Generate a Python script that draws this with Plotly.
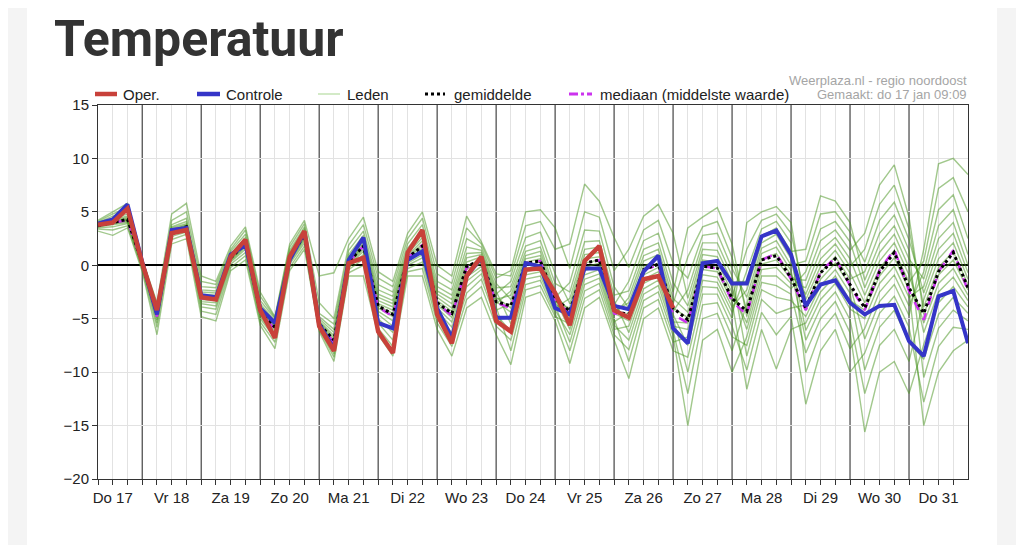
import pandas as pd
import plotly.graph_objects as go

# tijdstappen van 6 uur, vanaf do 17 jan 06:00
tijd = pd.date_range('2019-01-17 06:00', periods=60, freq='6h')

dag_labels = ['Do 17', 'Vr 18', 'Za 19', 'Zo 20', 'Ma 21', 'Di 22', 'Wo 23', 'Do 24',
              'Vr 25', 'Za 26', 'Zo 27', 'Ma 28', 'Di 29', 'Wo 30', 'Do 31']
label_pos = ['2019-01-%02d 12:00' % d for d in range(17, 32)]
middernacht = ['2019-01-%02d 00:00' % d for d in range(18, 32)]

# operationele run (stopt na 10 dagen)
oper = [3.8, 4.0, 5.3, 0.2, -4.2, 3.0, 3.3, -3.0, -3.2, 0.8, 2.4, -4.2, -6.8, 0.8, 3.2,
        -5.7, -8.0, 0.2, 0.7, -6.2, -8.2, 1.2, 3.3, -4.6, -7.3, -1.0, 0.8, -5.2, -6.2, -0.4,
        -0.3, -2.6, -5.6, 0.4, 1.8, -4.2, -4.9, -1.3, -1.0, -4.0] + [None] * 20

controle = [3.9, 4.3, 5.7, 0.3, -4.6, 3.3, 3.5, -2.8, -3.0, 1.0, 1.9, -4.0, -5.4, 0.5, 3.1,
            -5.5, -7.8, 0.5, 2.6, -5.4, -5.9, 0.5, 1.3, -4.0, -6.8, -1.0, 0.7, -4.9, -4.9, 0.2,
            -0.1, -4.0, -4.6, -0.3, -0.3, -3.8, -4.1, -0.6, 0.9, -5.9, -7.3, 0.2, 0.4, -1.7, -1.7,
            2.7, 3.25, 1.0, -3.8, -1.8, -1.4, -3.5, -4.6, -3.8, -3.7, -7.1, -8.5, -2.9, -2.4, -7.3]

gemiddelde = [3.7, 4.0, 4.3, 0.2, -4.6, 3.2, 3.6, -3.0, -3.1, 0.7, 2.0, -4.3, -5.8, 0.7, 2.8,
              -5.5, -7.0, 0.3, 1.8, -3.8, -4.6, 0.7, 1.8, -3.5, -4.5, -0.1, 0.5, -3.4, -3.8, 0.2,
              0.4, -3.1, -4.3, 0.2, 0.5, -4.3, -4.6, -0.4, 0.1, -4.0, -5.1, -0.1, -0.25, -3.1, -4.3,
              0.5, 0.9, -1.2, -4.0, -0.7, 0.6, -1.8, -4.0, -0.6, 1.2, -2.1, -4.5, -0.6, 1.2, -2.1]

mediaan = [3.7, 4.0, 4.2, 0.2, -4.8, 3.3, 3.7, -3.1, -3.2, 0.7, 2.0, -4.4, -6.0, 0.7, 2.8,
           -5.6, -7.2, 0.3, 1.8, -3.9, -4.8, 0.7, 1.9, -3.6, -4.7, -0.2, 0.5, -3.5, -4.0, 0.2,
           0.4, -3.3, -4.5, 0.1, 0.5, -4.5, -4.8, -0.4, 0.0, -4.6, -5.4, -0.1, -0.3, -3.4, -4.6,
           0.5, 1.1, -1.3, -4.2, -0.6, 0.7, -1.9, -4.2, -0.5, 1.5, -2.4, -5.1, -0.6, 1.4, -2.4]

# ensembleleden, per tijdstap (16 leden, kolom = lid)
leden_per_stap = [
    [3.2, 3.4, 3.5, 3.6, 3.6, 3.7, 3.7, 3.7, 3.8, 3.8, 3.9, 3.9, 4.0, 4.0, 4.1, 4.2],
    [2.8, 3.3, 3.6, 3.8, 3.9, 3.9, 4.0, 4.0, 4.1, 4.1, 4.2, 4.3, 4.4, 4.6, 4.8, 5.0],
    [3.5, 3.7, 3.9, 4.0, 4.1, 4.2, 4.2, 4.3, 4.3, 4.4, 4.5, 4.6, 4.8, 5.0, 5.4, 5.8],
    [-0.6, -0.4, -0.2, -0.1, 0.0, 0.1, 0.1, 0.2, 0.2, 0.3, 0.3, 0.4, 0.4, 0.5, 0.5, 0.6],
    [-6.5, -5.8, -5.4, -5.1, -4.9, -4.8, -4.7, -4.6, -4.5, -4.4, -4.3, -4.2, -4.0, -3.9, -3.7, -3.5],
    [2.0, 2.4, 2.7, 2.9, 3.0, 3.1, 3.1, 3.2, 3.3, 3.3, 3.4, 3.5, 3.6, 3.8, 4.2, 4.8],
    [2.5, 2.9, 3.1, 3.3, 3.4, 3.5, 3.5, 3.6, 3.7, 3.7, 3.8, 3.9, 4.1, 4.4, 5.0, 5.8],
    [-4.8, -4.3, -3.9, -3.6, -3.4, -3.2, -3.1, -3.0, -2.9, -2.8, -2.7, -2.5, -2.3, -2.0, -1.5, -1.0],
    [-5.2, -4.6, -4.1, -3.8, -3.5, -3.3, -3.2, -3.1, -3.0, -2.9, -2.8, -2.6, -2.4, -2.1, -1.8, -1.5],
    [-0.5, -0.2, 0.1, 0.3, 0.4, 0.5, 0.6, 0.7, 0.7, 0.8, 0.9, 1.0, 1.1, 1.3, 1.5, 1.8],
    [0.5, 0.9, 1.2, 1.5, 1.7, 1.8, 1.9, 2.0, 2.1, 2.2, 2.3, 2.4, 2.6, 2.9, 3.3, 3.6],
    [-5.6, -5.3, -5.0, -4.8, -4.6, -4.5, -4.4, -4.3, -4.2, -4.1, -4.0, -3.8, -3.6, -3.3, -2.9, -2.5],
    [-7.8, -7.2, -6.8, -6.5, -6.2, -6.0, -5.9, -5.8, -5.7, -5.6, -5.5, -5.3, -5.2, -5.0, -4.9, -4.8],
    [-0.5, -0.2, 0.1, 0.3, 0.4, 0.5, 0.6, 0.7, 0.7, 0.8, 0.9, 1.0, 1.2, 1.4, 1.7, 2.0],
    [1.5, 1.8, 2.1, 2.3, 2.5, 2.6, 2.7, 2.8, 2.9, 3.0, 3.1, 3.2, 3.4, 3.6, 3.9, 4.2],
    [-6.2, -6.0, -5.9, -5.8, -5.7, -5.6, -5.6, -5.5, -5.4, -5.3, -5.2, -5.0, -4.8, -4.5, -3.5, -1.0],
    [-9.0, -8.6, -8.3, -8.0, -7.8, -7.6, -7.4, -7.2, -7.0, -6.8, -6.6, -6.3, -6.0, -5.5, -5.0, -0.7],
    [-1.0, -0.7, -0.4, -0.2, 0.0, 0.1, 0.2, 0.3, 0.4, 0.5, 0.6, 0.8, 1.0, 1.4, 1.9, 2.5],
    [-1.0, 0.0, 0.6, 1.0, 1.3, 1.5, 1.7, 1.8, 1.9, 2.1, 2.3, 2.5, 2.8, 3.2, 3.8, 4.5],
    [-6.5, -5.9, -5.4, -5.0, -4.6, -4.3, -4.0, -3.8, -3.6, -3.3, -3.0, -2.7, -2.3, -1.8, -1.2, -0.6],
    [-8.5, -7.6, -7.0, -6.3, -5.7, -5.2, -4.8, -4.5, -4.2, -3.9, -3.6, -3.3, -2.9, -2.5, -2.0, -1.5],
    [-1.0, -0.6, -0.3, 0.0, 0.2, 0.4, 0.5, 0.7, 0.8, 0.9, 1.1, 1.3, 1.6, 2.0, 2.5, 3.0],
    [-1.0, -0.3, 0.3, 0.7, 1.0, 1.3, 1.6, 1.8, 2.0, 2.3, 2.6, 2.9, 3.3, 3.8, 4.4, 5.0],
    [-6.0, -5.4, -5.0, -4.6, -4.3, -4.0, -3.7, -3.5, -3.3, -3.0, -2.7, -2.4, -2.0, -1.5, -0.8, 0.0],
    [-8.5, -7.6, -6.9, -6.3, -5.8, -5.3, -4.9, -4.6, -4.3, -4.0, -3.6, -3.2, -2.8, -2.3, -1.7, -1.0],
    [-4.0, -3.2, -2.6, -2.0, -1.5, -1.1, -0.7, -0.4, -0.1, 0.3, 0.7, 1.1, 1.7, 2.5, 3.5, 4.6],
    [-3.0, -2.0, -1.3, -0.8, -0.4, -0.1, 0.2, 0.4, 0.6, 0.8, 1.0, 1.2, 1.4, 1.7, 2.0, 2.2],
    [-6.5, -5.7, -5.1, -4.6, -4.2, -3.9, -3.6, -3.4, -3.2, -3.0, -2.7, -2.4, -2.1, -1.7, -1.2, -0.8],
    [-9.3, -7.0, -4.9, -6.2, -3.6, -8.0, -2.4, -4.4, -2.8, -4.0, -1.5, -5.5, -2.0, -3.2, -0.5, -1.0],
    [-3.0, -1.8, -0.6, -1.3, 0.3, -2.3, 1.3, -0.3, 0.9, 0.0, 2.6, -0.9, 1.8, 0.6, 5.0, 3.7],
    [-2.5, -1.4, -0.3, -1.0, 0.6, -1.9, 1.7, 0.0, 1.3, 0.3, 3.1, -0.6, 2.3, 0.9, 5.2, 4.1],
    [-5.2, -4.5, -3.8, -4.2, -3.2, -4.8, -2.3, -3.6, -2.7, -3.4, -0.8, -4.0, -1.7, -3.0, 3.5, 1.5],
    [-9.2, -8.0, -7.2, -6.5, -6.0, -5.5, -5.1, -4.7, -4.4, -4.0, -3.6, -3.1, -2.5, -1.6, -0.3, 2.0],
    [-4.0, -3.1, -2.4, -1.8, -1.3, -0.9, -0.5, -0.2, 0.2, 0.6, 1.0, 1.5, 2.2, 3.3, 5.0, 7.6],
    [-3.0, -2.3, -1.7, -1.2, -0.8, -0.4, -0.1, 0.2, 0.5, 0.8, 1.2, 1.7, 2.3, 3.2, 4.5, 6.0],
    [-7.0, -6.5, -6.0, -5.6, -5.3, -5.0, -4.7, -4.5, -4.3, -4.0, -3.7, -3.3, -2.8, -2.0, -0.5, 2.6],
    [-10.6, -7.9, -5.7, -7.0, -4.4, -9.0, -3.0, -5.2, -3.5, -4.8, -1.5, -6.3, -2.4, -4.0, 1.5, -0.2],
    [-5.0, -3.3, -1.7, -2.7, -0.5, -4.0, 0.9, -1.3, 0.4, -0.9, 2.3, -2.2, 1.5, -0.1, 4.6, 3.3],
    [-4.0, -2.5, -1.0, -1.9, 0.2, -3.2, 1.5, -0.6, 1.0, -0.2, 3.0, -1.4, 2.1, 0.6, 5.7, 4.2],
    [-8.0, -6.6, -5.3, -6.1, -4.3, -7.2, -3.1, -4.9, -3.6, -4.6, -1.6, -5.7, -2.5, -4.0, 3.0, 0.2],
    [-8.6, -15.0, -5.4, -12.0, -2.3, -6.7, -4.4, -10.0, 0.8, -7.5, -3.8, -6.0, 3.5, -4.9, -3.1, -1.2],
    [-2.7, -7.0, -0.4, -5.0, 2.1, -1.4, 0.5, -3.7, 3.6, -2.0, 1.0, -0.9, 4.5, 0.0, 1.5, 2.8],
    [-2.7, -6.0, -0.6, -4.5, 2.1, -1.6, 0.3, -3.5, 4.1, -2.1, 0.8, -1.1, 5.4, -0.2, 1.4, 3.0],
    [-5.7, -10.0, -3.4, -8.0, -1.0, -4.4, -2.6, -6.7, 0.7, -5.0, -2.1, -3.9, 2.0, -3.0, -1.6, -0.3],
    [-9.8, -6.7, -11.6, -3.6, -8.5, -0.5, -5.4, -7.5, -4.2, 4.0, -6.0, -2.3, -4.8, 1.5, -1.5, -3.0],
    [-4.4, -1.6, -6.0, 1.1, -3.2, 3.4, -0.4, -2.3, 0.6, 5.0, -1.0, 2.1, 0.1, 4.2, 2.7, 1.6],
    [-6.5, -1.9, -9.7, 1.7, -4.5, 4.1, -0.2, -3.0, 1.1, 5.5, -1.0, 2.9, 0.5, 4.8, 3.5, 2.3],
    [-4.8, -2.7, -6.0, -0.5, -4.0, 2.1, -1.7, -3.3, -0.9, 4.0, -2.2, 0.6, -1.3, 3.0, 1.3, 0.0],
    [-13.0, -8.2, -5.4, -7.0, -3.7, -10.0, -2.1, -4.8, -2.7, -4.2, -0.6, -6.1, -1.4, -3.2, 1.5, 0.4],
    [-8.0, -5.0, -2.5, -4.0, -0.7, -6.2, 1.4, -1.9, 0.6, -1.3, 3.4, -3.2, 2.3, -0.1, 6.5, 4.8],
    [-6.0, -3.4, -1.0, -2.5, 0.8, -4.5, 2.6, -0.4, 2.0, 0.2, 4.1, -1.7, 3.3, 1.4, 6.0, 5.0],
    [-10.0, -6.3, -3.3, -5.1, -1.3, -7.8, 0.6, -2.6, -0.1, -1.9, 2.2, -4.1, 1.4, -0.7, 4.0, 3.1],
    [-8.2, -15.6, -4.2, -12.0, -0.6, -5.9, -2.8, -9.8, 1.5, -6.9, -2.1, -5.0, 3.0, -3.5, -1.4, 0.3],
    [-4.5, -10.0, -1.0, -7.5, 3.0, -2.5, 0.4, -5.8, 5.7, -3.4, 1.2, -1.7, 7.5, -0.3, 2.0, 4.2],
    [-2.9, -9.0, 0.7, -6.0, 4.7, -0.9, 2.1, -4.2, 7.5, -1.8, 2.9, -0.1, 9.4, 1.4, 3.7, 5.9],
    [-5.8, -12.0, -2.3, -9.0, 1.4, -3.8, -0.9, -7.2, 3.4, -4.7, -0.2, -3.0, 4.5, -1.6, 0.6, 2.4],
    [-12.8, -7.4, -15.0, -3.2, -10.5, -0.6, -5.4, -8.8, -3.9, 1.5, -6.3, -2.0, -4.6, 0.4, -1.3, -2.6],
    [-7.6, -3.5, -10.0, 0.6, -5.9, 5.2, -1.7, -4.6, -0.2, 9.5, -2.5, 2.5, -0.9, 7.2, 3.7, 1.5],
    [-5.8, -2.0, -8.0, 2.1, -4.2, 6.6, -0.3, -3.0, 1.3, 10.0, -1.1, 4.0, 0.5, 8.2, 5.2, 3.0],
    [-6.0, -3.9, -7.0, -1.3, -5.2, 2.5, -2.8, -4.5, -1.8, 8.5, -3.3, 0.0, -2.3, 5.0, 1.0, -0.7],
]

# lichte rasterlijnen op de 6-uurs stappen die niet op middernacht vallen
zes_uur = [t for t in tijd if t.hour != 0]

# de pagina heeft 8px marge; plotgebied in figuurpixels: x 90..960, y 97..471
def px_x(X):
    return (X - 8 - 90) / 870.0

def px_y(Y):
    return (471 - (Y - 8)) / 374.0

fig = go.Figure()

for i in range(len(leden_per_stap[0])):
    fig.add_trace(go.Scatter(x=tijd, y=[rij[i] for rij in leden_per_stap], mode='lines',
                             name='Leden', showlegend=False, hoverinfo='skip',
                             line=dict(color='rgba(75,150,35,0.52)', width=1.4)))

fig.add_trace(go.Scatter(x=tijd, y=mediaan, mode='lines', name='mediaan (middelste waarde)',
                         line=dict(color='#cc33ee', width=2.5, dash='dash')))
fig.add_trace(go.Scatter(x=tijd, y=gemiddelde, mode='lines', name='gemiddelde',
                         line=dict(color='black', width=3, dash='dot')))
fig.add_trace(go.Scatter(x=tijd, y=controle, mode='lines', name='Controle',
                         line=dict(color='#3535c8', width=4)))
fig.add_trace(go.Scatter(x=tijd, y=oper, mode='lines', name='Oper.',
                         line=dict(color='#c8413a', width=4.5)))

# witte kaart op grijze achtergrond
shapes = [dict(type='rect', xref='paper', yref='paper', x0=px_x(27), x1=px_x(997),
               y0=-0.3, y1=1.4, fillcolor='white', line=dict(width=0), layer='below')]

# donkere lijnen om middernacht
for m in middernacht:
    shapes.append(dict(type='line', xref='x', yref='paper', x0=m, x1=m, y0=0, y1=1,
                       line=dict(color='#444444', width=1.2), layer='between'))

# legenda met de hand
legenda = [
    ('Oper.', 95, 117, 121, dict(color='#c8413a', width=4.5)),
    ('Controle', 197, 220, 224, dict(color='#3535c8', width=4.5)),
    ('Leden', 318, 340, 345, dict(color='#c5e3b5', width=1.5)),
    ('gemiddelde', 425, 445, 452, dict(color='black', width=3, dash='dot')),
    ('mediaan (middelste waarde)', 569, 592, 598, dict(color='#cc33ee', width=3, dash='dashdot')),
]
annotations = []
for tekst, s0, s1, tx, lijn in legenda:
    shapes.append(dict(type='line', xref='paper', yref='paper', x0=px_x(s0), x1=px_x(s1),
                       y0=px_y(94), y1=px_y(94), line=lijn))
    annotations.append(dict(text=tekst, xref='paper', yref='paper', x=px_x(tx), y=px_y(94),
                            xanchor='left', yanchor='middle', showarrow=False,
                            font=dict(size=15, color='#222')))

annotations.append(dict(text='Temperatuur', xref='paper', yref='paper', x=px_x(52), y=px_y(8),
                        xanchor='left', yanchor='top', showarrow=False,
                        font=dict(family='Roboto', size=50, color='#333333', weight='bold')))
for tekst, yy in [('Weerplaza.nl - regio noordoost', 81), ('Gemaakt: do 17 jan 09:09', 95)]:
    annotations.append(dict(text=tekst, xref='paper', yref='paper', x=px_x(969), y=px_y(yy),
                            xanchor='right', yanchor='middle', showarrow=False,
                            font=dict(size=13, color='#a5a5a5')))

fig.update_layout(
    width=1016, height=537,
    margin=dict(l=90, r=56, t=97, b=66),
    paper_bgcolor='#f4f4f4', plot_bgcolor='white',
    showlegend=False,
    font=dict(family='Liberation Sans, Arial, sans-serif', size=15, color='#222'),
    shapes=shapes, annotations=annotations,
    xaxis=dict(type='date', range=[tijd[0], tijd[-1]],
               tickvals=label_pos + middernacht,
               ticktext=dag_labels + [''] * len(middernacht),
               ticks='outside', ticklen=5, tickcolor='#333', showgrid=False, zeroline=False,
               showline=True, linecolor='#333', linewidth=1, mirror=True,
               tickfont=dict(size=15, color='#222'),
               minor=dict(tickvals=zes_uur, ticks='outside', ticklen=5, tickcolor='#333',
                          showgrid=True, gridcolor='#e2e2e2')),
    yaxis=dict(range=[-20, 15], dtick=5, tick0=0, ticks='outside', ticklen=5, tickcolor='#333',
               showgrid=True, gridcolor='#e2e2e2', zeroline=True, zerolinecolor='black',
               zerolinewidth=2, showline=True, linecolor='#333', linewidth=1, mirror=True,
               tickfont=dict(size=15, color='#222')),
)

fig.write_html('out.html')
